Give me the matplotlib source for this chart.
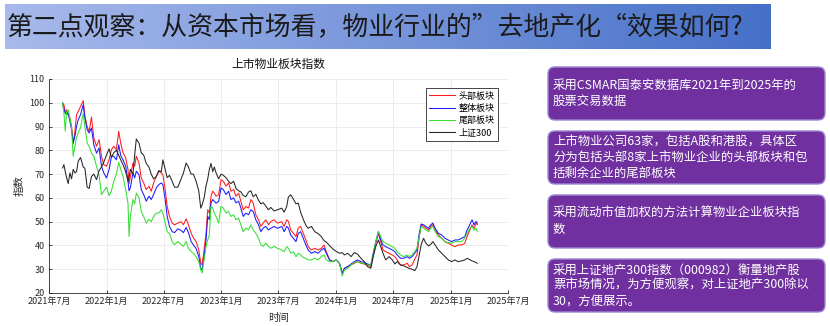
import numpy as np
import pandas as pd
import matplotlib
matplotlib.use('Agg')
import matplotlib.pyplot as plt
import matplotlib.dates as mdates
from matplotlib.patches import FancyBboxPatch
from matplotlib.ticker import FuncFormatter, MultipleLocator

plt.rcParams['font.family'] = ['Noto Sans CJK SC', 'DejaVu Sans']
plt.rcParams['axes.unicode_minus'] = False

# time axis: months elapsed since 2021-07-01
months = [
    1.42, 1.56, 1.70, 1.84, 2.01, 2.19, 2.36, 2.53, 2.71, 2.88,
    3.06, 3.30, 3.58, 3.75, 3.99, 4.20, 4.44, 4.69, 4.97, 5.24,
    5.49, 5.73, 6.01, 6.28, 6.53, 6.77, 7.05, 7.29, 7.50, 7.74,
    8.02, 8.26, 8.37, 8.51, 8.78, 8.96, 9.13, 9.41, 9.65, 9.90,
    10.17, 10.45, 10.69, 10.94, 11.22, 11.49, 11.74, 11.91, 12.15, 12.36,
    12.60, 12.88, 13.13, 13.47, 13.82, 14.06, 14.34, 14.58, 14.86, 15.10,
    15.38, 15.66, 15.87, 16.01, 16.22, 16.42, 16.60, 16.77, 16.94, 17.12,
    17.29, 17.47, 17.74, 17.99, 18.23, 18.51, 18.78, 19.03, 19.31, 19.55,
    19.83, 20.07, 20.31, 20.59, 20.87, 21.11, 21.35, 21.63, 21.91, 22.15,
    22.40, 22.67, 22.95, 23.19, 23.54, 23.89,
    24.34, 24.59, 24.86, 25.03, 25.28, 25.55, 25.83, 26.07, 26.31, 26.59,
    26.86, 27.10, 27.45, 27.79, 28.14, 28.48, 28.76, 29.00, 29.34, 29.69,
    30.03, 30.38, 30.66, 30.90, 31.24, 31.59, 31.93, 32.28, 32.62, 32.97,
    33.31, 33.66, 33.90, 34.17, 34.45, 34.69, 34.93, 35.21, 35.55, 35.90,
    36.17, 36.41, 36.76, 37.10, 37.45, 37.69, 37.97, 38.24, 38.48, 38.72,
    38.93, 39.17, 39.41, 39.69, 39.93, 40.14, 40.38, 40.72, 41.07, 41.41,
    41.76, 42.10, 42.45, 42.79, 43.14, 43.48, 43.72, 44.00, 44.24, 44.45,
    44.66, 44.79,
]

head = [
    99.9, 99.2, 95.7, 97.1, 95.0, 93.6, 90.0, 83.0, 88.0, 95.0,
    96.4, 98.5, 100.9, 94.3, 90.0, 88.0, 94.0, 85.2, 81.7, 84.5,
    77.5, 74.0, 73.3, 76.0, 80.3, 81.7, 80.3, 88.0, 83.0, 79.0,
    76.8, 71.9, 66.0, 69.0, 74.7, 73.3, 77.5, 74.7, 68.4, 66.3,
    63.5, 64.9, 62.8, 66.3, 69.0, 71.2, 70.5, 69.8, 63.5, 56.4,
    52.2, 49.4, 48.7, 49.4, 50.0, 48.7, 51.2, 48.7, 45.2, 43.2,
    41.7, 38.2, 32.6, 31.9, 38.2, 45.2, 55.0, 53.6, 60.7, 62.8,
    62.0, 60.7, 61.4, 67.7, 67.0, 64.9, 66.3, 62.8, 63.5, 60.7,
    62.0, 58.5, 55.0, 56.4, 55.7, 59.3, 57.9, 52.9, 50.8, 48.0,
    49.4, 50.8, 48.7, 50.0, 50.8, 49.4,
    50.0, 48.0, 50.8, 50.1, 46.5, 45.1, 43.7, 47.3, 48.0, 45.1,
    42.3, 39.5, 38.1, 38.8, 38.1, 38.8, 40.2, 37.4, 33.9, 33.2,
    33.9, 32.5, 28.3, 30.4, 31.1, 31.8, 32.5, 33.2, 32.5, 32.2,
    31.8, 31.1, 35.3, 40.9, 45.1, 41.6, 38.1, 37.4, 36.7, 36.0,
    35.3, 33.9, 31.8, 31.8, 32.5, 31.1, 31.8, 34.2, 36.0, 43.7,
    48.7, 48.0, 47.3, 46.5, 48.0, 48.7, 46.5, 44.4, 43.0, 41.6,
    40.9, 40.2, 39.5, 40.2, 40.2, 40.9, 43.7, 46.5, 48.7, 47.2,
    49.4, 48.7,
]

whole = [
    99.9, 97.5, 95.7, 95.0, 95.7, 92.0, 88.7, 83.0, 86.0, 90.0,
    92.9, 95.0, 99.2, 93.6, 88.7, 87.3, 89.4, 82.3, 78.8, 81.0,
    73.3, 70.5, 68.4, 71.9, 77.5, 77.5, 76.0, 82.3, 77.9, 76.0,
    73.3, 67.0, 63.0, 64.2, 70.5, 68.4, 71.2, 69.8, 63.5, 61.4,
    58.6, 60.7, 59.3, 61.4, 64.2, 65.6, 66.3, 65.6, 59.3, 52.2,
    48.0, 45.8, 45.4, 47.0, 46.3, 45.4, 47.6, 45.4, 41.7, 40.2,
    38.8, 35.3, 30.4, 29.7, 35.3, 42.3, 52.2, 50.8, 57.8, 59.3,
    58.6, 57.8, 58.5, 64.2, 63.5, 61.4, 62.8, 59.3, 60.0, 57.9,
    58.6, 55.7, 52.2, 53.6, 52.9, 55.0, 54.3, 50.8, 48.7, 45.8,
    47.3, 48.0, 46.5, 47.2, 48.0, 47.2,
    48.0, 45.8, 48.0, 47.3, 44.4, 43.0, 41.6, 45.1, 45.8, 43.0,
    40.2, 38.1, 36.7, 37.4, 36.7, 38.1, 38.8, 36.7, 33.9, 33.2,
    33.9, 32.5, 28.3, 30.4, 31.1, 32.2, 33.2, 33.9, 33.2, 32.8,
    32.2, 31.8, 36.7, 41.6, 45.8, 42.3, 40.2, 39.5, 38.8, 38.1,
    37.4, 36.0, 34.6, 34.6, 35.3, 34.6, 35.3, 36.7, 38.1, 45.1,
    49.0, 48.7, 48.0, 47.2, 48.7, 49.4, 47.2, 45.1, 44.4, 43.0,
    42.3, 41.6, 42.3, 42.3, 43.0, 43.7, 46.5, 48.7, 50.8, 48.7,
    50.1, 49.4,
]

tail = [
    99.9, 95.7, 88.0, 96.0, 97.0, 93.5, 89.5, 77.5, 81.5, 85.5,
    87.5, 89.5, 95.7, 90.0, 83.0, 81.7, 78.8, 77.5, 73.3, 69.5,
    61.4, 62.8, 64.5, 61.0, 63.0, 67.0, 70.0, 75.0, 72.0, 69.0,
    63.5, 57.8, 43.8, 52.2, 59.3, 57.5, 62.0, 60.0, 54.3, 52.2,
    49.4, 51.0, 50.0, 52.2, 53.6, 53.6, 55.0, 53.6, 49.4, 45.8,
    45.0, 41.7, 40.3, 41.7, 40.3, 39.6, 41.7, 38.8, 37.5, 36.7,
    35.3, 33.2, 29.7, 28.4, 33.9, 39.6, 42.4, 44.5, 56.5, 55.7,
    53.6, 52.2, 49.4, 56.4, 55.7, 53.6, 54.3, 52.2, 52.9, 50.8,
    51.5, 48.7, 45.8, 47.3, 46.5, 48.7, 46.5, 45.1, 43.1, 40.3,
    39.6, 41.0, 39.6, 38.8, 39.6, 38.8,
    38.1, 37.4, 39.5, 38.8, 36.7, 37.4, 35.3, 36.7, 36.0, 35.0,
    34.6, 33.9, 33.9, 34.6, 33.9, 35.3, 36.0, 33.9, 33.2, 33.2,
    33.9, 32.5, 27.2, 29.7, 30.4, 31.8, 32.8, 33.2, 32.5, 32.5,
    31.8, 31.8, 36.0, 41.6, 45.8, 43.7, 41.6, 40.9, 40.2, 39.5,
    38.8, 37.4, 36.0, 35.3, 36.0, 35.3, 36.0, 37.4, 38.8, 43.7,
    48.0, 47.3, 46.5, 45.8, 47.3, 48.0, 45.8, 43.7, 43.0, 41.6,
    41.2, 40.9, 41.6, 41.6, 41.6, 43.0, 45.1, 47.2, 48.0, 46.5,
    47.2, 45.8,
]

# 上证地产300 / 30
sz300 = [
    72.6, 74.0, 71.0, 68.5, 66.0, 70.5, 68.0, 72.0, 70.5, 71.0,
    75.5, 77.0, 73.0, 72.5, 64.5, 64.0, 69.0, 70.0, 67.7, 71.5,
    73.0, 75.0, 78.0, 80.6, 77.0, 79.0, 80.0, 78.0, 76.0, 74.0,
    71.0, 67.0, 68.5, 72.0, 70.0, 78.0, 84.8, 83.0, 79.0, 78.0,
    74.5, 73.0, 70.0, 68.0, 69.0, 71.5, 71.0, 76.0, 72.0, 68.5,
    69.5, 67.0, 64.5, 64.5, 68.0, 70.5, 74.7, 73.0, 70.0, 70.0,
    67.0, 63.0, 55.7, 57.0, 60.0, 65.0, 68.0, 72.0, 74.5, 71.0,
    73.0, 70.5, 68.0, 70.0, 69.5, 68.5, 67.0, 66.0, 67.0, 64.0,
    63.0, 62.5, 61.0, 60.5, 62.5, 63.0, 60.5, 61.5, 59.0, 57.5,
    58.0, 56.5, 55.0, 56.0, 54.5, 55.0,
    55.7, 54.0, 56.4, 60.3, 61.3, 59.5, 57.5, 57.8, 54.0, 51.0,
    48.5, 47.2, 48.0, 45.8, 45.0, 43.7, 42.0, 41.4, 40.0, 38.5,
    37.5, 36.7, 37.0, 36.0, 36.7, 35.3, 37.0, 36.3, 34.6, 33.2,
    31.1, 30.4, 35.3, 39.5, 42.3, 39.5, 36.7, 33.9, 35.3, 33.9,
    32.2, 33.2, 31.8, 31.4, 30.8, 30.3, 30.0, 29.4, 31.0, 36.0,
    40.5, 43.0, 41.0, 39.8, 40.5, 41.6, 40.2, 38.1, 36.7, 35.3,
    33.9, 33.2, 33.9, 33.2, 33.5, 33.9, 34.6, 34.0, 33.5, 33.2,
    32.8, 32.5,
]

series_names = ['头部板块', '整体板块', '尾部板块', '上证300']
series_colors = ['#ff1a1a', '#1a1aff', '#33e033', '#262626']

title = '第二点观察：从资本市场看，物业行业的”去地产化“效果如何?'
notes = [
    ['采用CSMAR国泰安数据库2021年到2025年的', '股票交易数据'],
    ['上市物业公司63家，包括A股和港股，具体区',
     '分为包括头部8家上市物业企业的头部板块和包', '括剩余企业的尾部板块'],
    ['采用流动市值加权的方法计算物业企业板块指', '数'],
    ['采用上证地产300指数（000982）衡量地产股',
     '票市场情况，为方便观察，对上证地产300除以', '30，方便展示。'],
]

W, H = 830, 326
fig = plt.figure(figsize=(W / 100, H / 100), dpi=100)

# background layer in pixel coordinates
bg = fig.add_axes([0, 0, 1, 1])
bg.set_xlim(0, W)
bg.set_ylim(H, 0)
bg.axis('off')

# title banner with horizontal gradient
c0 = np.array([168, 186, 236]) / 255
c1 = np.array([70, 112, 200]) / 255
t = np.linspace(0, 1, 256)[None, :, None]
grad = c0 + (c1 - c0) * t
bg.imshow(grad, extent=(5, 770, 49, 4), aspect='auto', interpolation='bilinear')
bg.text(7, 27, title, fontsize=18.6, color='#1a1a1a', va='center', ha='left')

# purple note boxes
box_tops = [67, 131, 195, 259]
box_h = 53
for top, lines in zip(box_tops, notes):
    bg.add_patch(FancyBboxPatch((548, top), 277, box_h,
                                boxstyle='round,pad=0,rounding_size=7',
                                facecolor='#7030a0', edgecolor='#9c86d6', lw=1.0))
    mid = top + box_h / 2
    n = len(lines)
    for i, line in enumerate(lines):
        bg.text(553, mid + (i - (n - 1) / 2) * 15.5, line, color='white',
                fontsize=8.9, va='center', ha='left')
bg.set_xlim(0, W)
bg.set_ylim(H, 0)

# chart
ax = fig.add_axes([49 / W, (H - 293) / H, 459 / W, 214 / H])
dates = pd.Timestamp('2021-07-01') + pd.to_timedelta(np.array(months) * 30.4375, unit='D')
for vals, name, col in zip([head, whole, tail, sz300], series_names, series_colors):
    ax.plot(dates, vals, color=col, lw=0.75, label=name)

ax.set_xlim(pd.Timestamp('2021-07-01'), pd.Timestamp('2025-07-01'))
ax.set_ylim(20, 110)
ax.yaxis.set_major_locator(MultipleLocator(10))
ax.xaxis.set_major_locator(mdates.MonthLocator(bymonth=[1, 7]))
ax.xaxis.set_major_formatter(FuncFormatter(
    lambda x, _: f'{mdates.num2date(x).year}年{mdates.num2date(x).month}月'))

for s in ['top', 'right']:
    ax.spines[s].set_visible(False)
for s in ['left', 'bottom']:
    ax.spines[s].set_color('#262626')
    ax.spines[s].set_linewidth(0.6)
ax.grid(True, color='#e6e6e6', lw=0.5)
ax.set_axisbelow(True)
ax.tick_params(direction='in', length=2.5, width=0.6, colors='#262626',
               labelsize=6.5, pad=3)

ax.set_title('上市物业板块指数', fontsize=8.5, color='#111111', pad=8)
ax.set_xlabel('时间', fontsize=7.5, color='#262626')
ax.set_ylabel('指数', fontsize=7.5, color='#262626')
ax.xaxis.set_label_coords(0.5, -0.093)
ax.yaxis.set_label_coords(-0.054, 0.5)

leg = ax.legend(loc='upper right', bbox_to_anchor=(0.978, 0.958), borderaxespad=0,
                fontsize=6.5, fancybox=False, framealpha=1, edgecolor='#262626',
                handlelength=2.8, handletextpad=0.4, labelspacing=0.35, borderpad=0.4)
leg.get_frame().set_linewidth(0.6)

fig.savefig('out.png', dpi=100)
